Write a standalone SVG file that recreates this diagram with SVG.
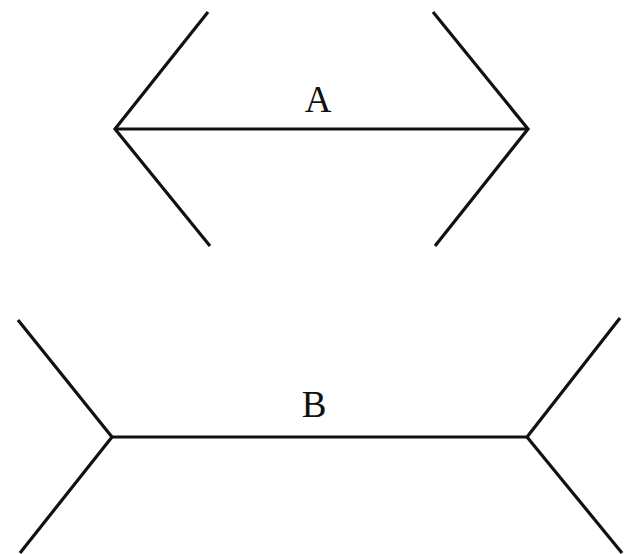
<svg xmlns="http://www.w3.org/2000/svg" width="628" height="554" viewBox="0 0 628 554">
<style>
.l{stroke:#111;stroke-width:3.2;fill:none;stroke-linecap:butt;stroke-linejoin:miter}
.t{font-family:"Liberation Serif","Times New Roman",serif;font-size:37px;fill:#111;text-anchor:middle}
</style>
<rect width="628" height="554" fill="#fff"/>
<g id="figureA">
<polyline class="l" points="208,12 115,129 210,246"/>
<polyline class="l" points="433,12 528,129 435,246"/>
<line class="l" x1="115" y1="129" x2="528" y2="129"/>
<text class="t" x="318" y="112">A</text>
</g>
<g id="figureB">
<polyline class="l" points="18,320 112,437 20,553"/>
<polyline class="l" points="620,318 527,437 622,553"/>
<line class="l" x1="112" y1="437" x2="527" y2="437"/>
<text class="t" x="314" y="417">B</text>
</g>
</svg>
